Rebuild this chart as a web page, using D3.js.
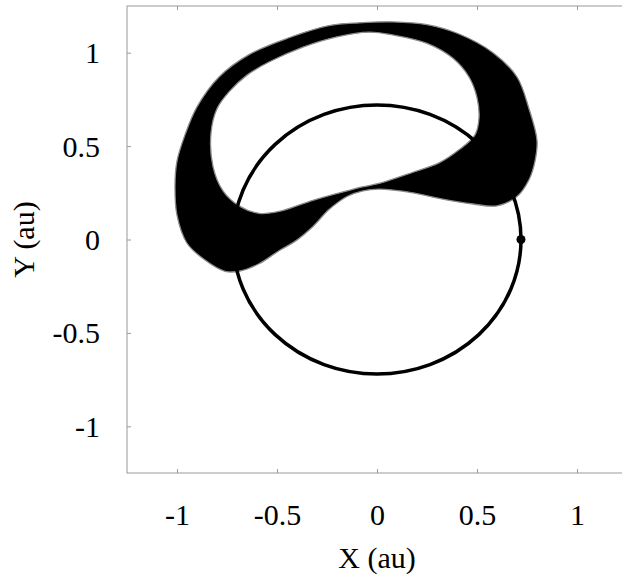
<!DOCTYPE html>
<html>
<head>
<meta charset="utf-8">
<script src="https://cdn.jsdelivr.net/npm/d3@7"></script>
<style>
  html, body { margin: 0; padding: 0; background: #fff; }
  svg { display: block; }
  svg text { font-family: "Liberation Serif", "DejaVu Serif", serif !important; fill: #000; }
</style>
</head>
<body>
<svg id="chart" width="622" height="575"></svg>
<script>
// ---- data (au) ----
const xTicks = [-1, -0.5, 0, 0.5, 1];
const yTicks = [-1, -0.5, 0, 0.5, 1];
const xTickLabels = ["-1", "-0.5", "0", "0.5", "1"];
const yTickLabels = ["-1", "-0.5", "0", "0.5", "1"];

// outer edge of the trajectory band
const bandOuterX = [-0.24, -0.09, 0.08, 0.25, 0.41, 0.58, 0.70, 0.76, 0.80, 0.79, 0.76, 0.70, 0.60, 0.48, 0.31, 0.18, 0.01, -0.07, -0.15, -0.24, -0.32, -0.41, -0.49, -0.59, -0.69, -0.76, -0.86, -0.95, -1.00, -1.01, -1.00, -0.96, -0.90, -0.79, -0.64, -0.44];
const bandOuterY = [1.145, 1.16, 1.165, 1.15, 1.10, 1.00, 0.87, 0.70, 0.53, 0.42, 0.32, 0.23, 0.18, 0.19, 0.22, 0.25, 0.27, 0.26, 0.23, 0.16, 0.07, -0.01, -0.06, -0.13, -0.17, -0.17, -0.11, -0.02, 0.13, 0.29, 0.42, 0.56, 0.71, 0.87, 0.99, 1.08];
// inner edge (the hole) of the trajectory band
const bandInnerX = [-0.04, -0.20, -0.37, -0.54, -0.65, -0.74, -0.80, -0.83, -0.82, -0.77, -0.69, -0.59, -0.49, -0.32, -0.15, -0.08, 0.01, 0.18, 0.31, 0.41, 0.49, 0.51, 0.50, 0.46, 0.38, 0.25, 0.08];
const bandInnerY = [1.11, 1.085, 1.03, 0.95, 0.88, 0.79, 0.70, 0.57, 0.39, 0.26, 0.18, 0.14, 0.15, 0.21, 0.26, 0.28, 0.30, 0.36, 0.41, 0.48, 0.56, 0.65, 0.76, 0.87, 0.97, 1.05, 1.095];

const orbitRadius = [0.72];
const planetX = [0.72];
const planetY = [0];

(function () {
// ---- layout ----
const svg = d3.select("#chart");
const mLeft = 127, mRight = 627, mTop = 6, mBottom = 473;
const x = d3.scaleLinear().domain([-1.25, 1.25]).range([mLeft, mRight]);
const y = d3.scaleLinear().domain([-1.25, 1.25]).range([mBottom, mTop]);

const axisColor = "#9a9a9a";
const serif = "Liberation Serif, DejaVu Serif, serif";

// ---- band ----
const outerPts = bandOuterX.map((v, i) => [x(v), y(bandOuterY[i])]);
const innerPts = bandInnerX.map((v, i) => [x(v), y(bandInnerY[i])]);
const line = d3.line().curve(d3.curveCatmullRomClosed.alpha(0.5));
svg.append("path")
  .attr("d", line(outerPts) + line(innerPts))
  .attr("fill", "#000")
  .attr("fill-rule", "evenodd")
  .attr("stroke", "#8a8a8a")
  .attr("stroke-width", 1.3);

// ---- orbit circle ----
svg.append("ellipse")
  .attr("cx", x(0)).attr("cy", y(0))
  .attr("rx", x(orbitRadius[0]) - x(0))
  .attr("ry", y(0) - y(orbitRadius[0]))
  .attr("fill", "none")
  .attr("stroke", "#000")
  .attr("stroke-width", 3.5);

svg.selectAll("circle.planet")
  .data(planetX.map((v, i) => [v, planetY[i]]))
  .enter().append("circle")
  .attr("class", "planet")
  .attr("cx", d => x(d[0])).attr("cy", d => y(d[1]))
  .attr("r", 4.5).attr("fill", "#000");

// ---- frame and axes ----
const g = svg.append("g");
g.append("rect")
  .attr("x", mLeft).attr("y", mTop)
  .attr("width", mRight - mLeft).attr("height", mBottom - mTop)
  .attr("fill", "none").attr("stroke", axisColor).attr("stroke-width", 1);

const tickLen = 4;
const axB = g.append("g").attr("transform", `translate(0,${mBottom})`)
  .call(d3.axisBottom(x).tickValues(xTicks).tickSize(-tickLen).tickFormat((d, i) => xTickLabels[i]));
const axT = g.append("g").attr("transform", `translate(0,${mTop})`)
  .call(d3.axisTop(x).tickValues(xTicks).tickSize(-tickLen).tickFormat(""));
const axL = g.append("g").attr("transform", `translate(${mLeft},0)`)
  .call(d3.axisLeft(y).tickValues(yTicks).tickSize(-tickLen).tickFormat((d, i) => yTickLabels[i]));

[axB, axT, axL].forEach(a => {
  a.attr("font-family", serif).attr("font-size", 30);
  a.select(".domain").remove();
  a.selectAll(".tick line").attr("stroke", axisColor);
  a.selectAll("text")
    .attr("font-family", serif)
    .attr("font-size", 30)
    .attr("fill", "#000");
});
axB.selectAll("text").attr("dy", null).attr("y", 52);
axL.selectAll("text").attr("dy", null).attr("x", -27).attr("y", 10);

// ---- axis titles ----
svg.append("text")
  .attr("x", x(0)).attr("y", 568)
  .attr("text-anchor", "middle")
  .attr("font-family", serif)
  .attr("font-size", 30)
  .text("X (au)");
svg.append("text")
  .attr("transform", `translate(34,${y(0)}) rotate(-90)`)
  .attr("text-anchor", "middle")
  .attr("font-family", serif)
  .attr("font-size", 30)
  .text("Y (au)");
})();
</script>
</body>
</html>
